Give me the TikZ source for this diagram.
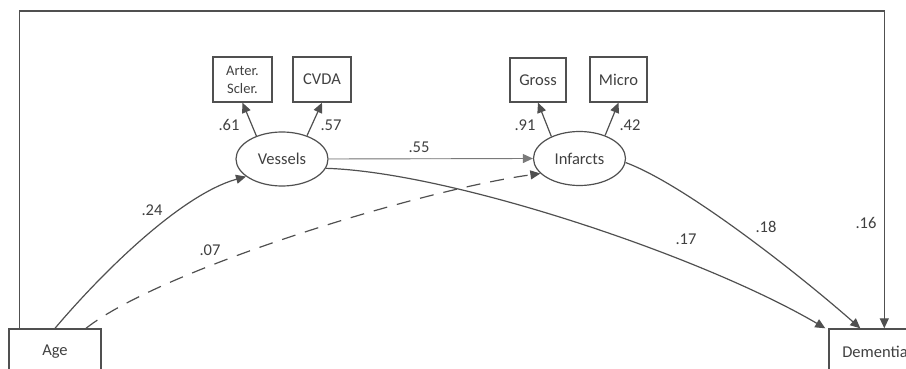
\documentclass[tikz,border=0pt]{standalone}
\usepackage{fontspec}
\setmainfont{Carlito}
\usetikzlibrary{arrows.meta,shapes.geometric}
\definecolor{ln}{HTML}{505050}
\definecolor{lnlight}{HTML}{7a7a7a}
\definecolor{tx}{HTML}{404040}
\begin{document}
\begin{tikzpicture}[x=1pt,y=-1pt,
  every node/.style={text=tx, font=\fontsize{16.5}{19}\selectfont},
  box/.style={draw=ln, line width=1.4pt, inner sep=0pt, align=center},
  lat/.style={ellipse, draw=ln, line width=1.2pt, minimum width=92pt, minimum height=54pt, inner sep=0pt},
  arr/.style={draw=ln, line width=1.2pt, -{Triangle[length=10pt,width=9pt]}},
  lbl/.style={inner sep=0pt},
]
\useasboundingbox (0,0) rectangle (906,369);
\clip (0,0) rectangle (906,369);

% observed boxes
\node[box, minimum width=59pt, minimum height=45pt, font=\fontsize{14.5}{18}\selectfont] (arter) at (242.5,79.5) {Arter.\\Scler.};
\node[box, minimum width=58pt, minimum height=45pt] (cvda) at (322,79.5) {CVDA};
\node[box, minimum width=56pt, minimum height=44pt] (gross) at (538,80) {Gross};
\node[box, minimum width=57pt, minimum height=45pt] (micro) at (618.5,79.5) {Micro};
\node[box, minimum width=92pt, minimum height=46pt] (age) at (55,352) {Age};
\node[box, minimum width=92pt, minimum height=46pt] (dementia) at (875,352) {Dementia};

% latent
\node[lat] (vessels) at (282,159) {Vessels};
\node[lat] (infarcts) at (579.5,158.5) {Infarcts};

% measurement arrows
\draw[arr] (vessels.138) -- (arter.south);
\draw[arr] (vessels.43) -- (cvda.south);
\draw[arr] (infarcts.142) -- (gross.south);
\draw[arr] (infarcts.42) -- (micro.south);

% structural paths
\draw[draw=lnlight, line width=0.9pt, -{Triangle[length=10pt,width=9pt]}, fill=ln] (vessels.east) -- (infarcts.west);
\draw[arr] (age.north) .. controls (100,275) and (180,195) .. (vessels.206);
\draw[arr, dashed, dash pattern=on 14pt off 10pt] ([xshift=31pt]age.north) .. controls (160,270) and (420,190) .. (infarcts.201);
\draw[arr] (vessels.348) .. controls (450,172) and (700,255) .. ([xshift=-3pt]dementia.north west);
\draw[arr] (infarcts.355) .. controls (686,185) and (801,276) .. ([xshift=32pt]dementia.north west);
\coordinate (topy) at (0,11);
\draw[arr] ([xshift=11pt]age.north west) -- ([xshift=11pt]age.north west |- topy) -| ([xshift=56pt]dementia.north west);

% labels
\node[lbl] (l61) at (229,125) {.61};
\node[lbl] (l57) at (331,125) {.57};
\node[lbl] (l91) at (525,125) {.91};
\node[lbl] (l42) at (630,125) {.42};
\node[lbl] (l55) at (419,147) {.55};
\node[lbl] (l24) at (152,210) {.24};
\node[lbl] (l07) at (210,250) {.07};
\node[lbl] (l17) at (686,239) {.17};
\node[lbl] (l18) at (766,227) {.18};
\node[lbl] (l16) at (866,223) {.16};
\end{tikzpicture}
\end{document}
